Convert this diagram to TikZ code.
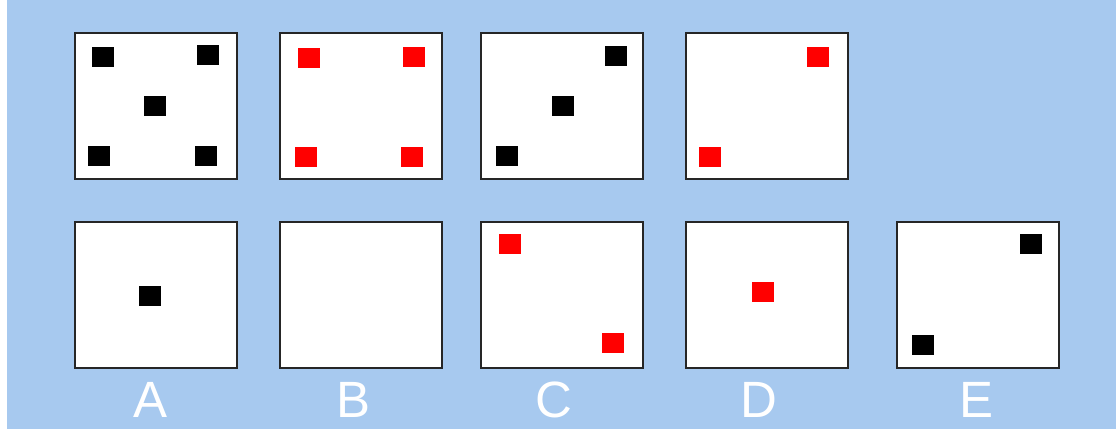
\documentclass[tikz,border=0pt]{standalone}
\usepackage{fontspec}
\setsansfont{Liberation Sans}
\definecolor{bgblue}{HTML}{A7C9EF}

\begin{document}
\begin{tikzpicture}[x=1pt,y=-1pt,
  panel/.style={draw=black!85,line width=2pt,fill=white,minimum width=162pt,minimum height=146pt,inner sep=0pt},
  blk/.style={fill=black,minimum width=22pt,minimum height=20pt,inner sep=0pt},
  rsq/.style={blk,fill=red},
  lbl/.style={text=white,inner sep=0pt,anchor=base,font=\sffamily\fontsize{51}{51}\selectfont}]
\useasboundingbox (0,0) rectangle (1116,429);
\fill[bgblue] (7,0) rectangle (1116,429);
% top row: the sequence
\node[panel] (T1) at (156,106) {};
\node[panel] (T2) at (360.5,106) {};
\node[panel] (T3) at (562,106) {};
\node[panel] (T4) at (766.5,106) {};
\node[blk] (t1a) at (103,56.5) {};
\node[blk] (t1b) at (207.5,55) {};
\node[blk] (t1c) at (155,105.5) {};
\node[blk] (t1d) at (99,155.5) {};
\node[blk] (t1e) at (206,155.5) {};
\node[rsq] (t2a) at (309,58) {};
\node[rsq] (t2b) at (414,56.5) {};
\node[rsq] (t2c) at (306,157) {};
\node[rsq] (t2d) at (412,157) {};
\node[blk] (t3a) at (616,55.5) {};
\node[blk] (t3b) at (563,105.5) {};
\node[blk] (t3c) at (507,156) {};
\node[rsq] (t4a) at (818,56.5) {};
\node[rsq] (t4b) at (710,157) {};
% bottom row: the answers
\node[panel] (A) at (156,295) {};
\node[panel] (B) at (361,295) {};
\node[panel] (C) at (562,295) {};
\node[panel] (D) at (766.5,295) {};
\node[panel] (E) at (978,295) {};
\node[blk] (a1) at (150,296) {};
\node[rsq] (c1) at (510,244) {};
\node[rsq] (c2) at (613,343) {};
\node[rsq] (d1) at (762.5,291.5) {};
\node[blk] (e1) at (1031,244) {};
\node[blk] (e2) at (923,345) {};
\node[lbl] (la) at (151,417) {A};
\node[lbl] (lb) at (354,417) {B};
\node[lbl] (lc) at (554,417) {C};
\node[lbl] (ld) at (759,417) {D};
\node[lbl] (le) at (976,417) {E};
\end{tikzpicture}
\end{document}
